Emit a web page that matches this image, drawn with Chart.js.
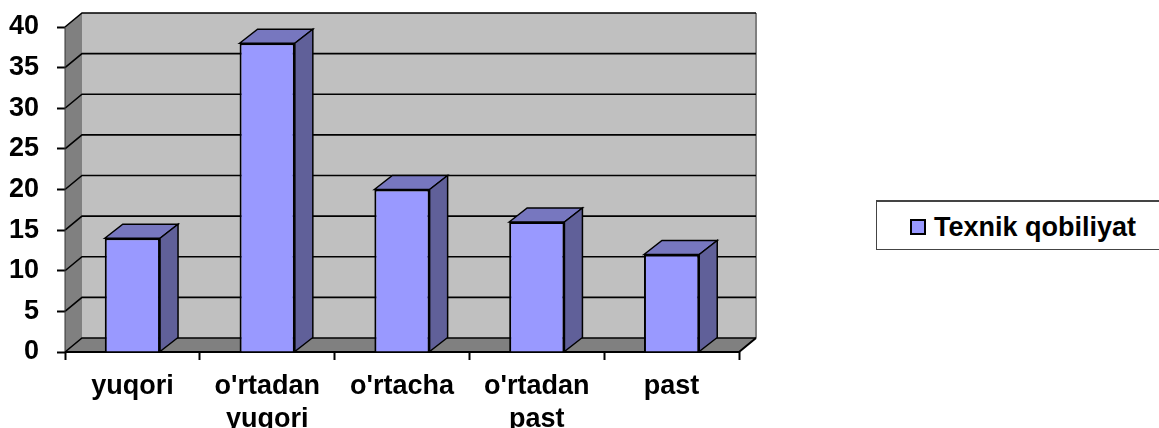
<!DOCTYPE html>
<html>
<head>
<meta charset="utf-8">
<script src="https://cdn.jsdelivr.net/npm/chart.js@4"></script>
<style>
    html, body { margin: 0; padding: 0; background: #fff; overflow: hidden; }
    #wrap { position: relative; width: 1159px; height: 428px; }
    #legend {
        position: absolute; left: 876px; top: 200px; width: 290px; height: 47px;
        border: 1px solid #444; border-top-width: 2px; background: #fff; box-sizing: content-box;
        font: bold 27px "Liberation Sans", Arial, sans-serif; color: #000;
    }
    #legend .box {
        position: absolute; left: 33px; top: 17px; width: 12px; height: 12px;
        border: 2px solid #000;
    }
    #legend .txt { position: absolute; left: 57px; top: 10px; line-height: 30px; white-space: nowrap; }
</style>
</head>
<body>
<div id="wrap">
    <canvas id="graf" width="1159" height="428"></canvas>
    <div id="legend"></div>
</div>
<script>
const categories = ['yuqori', ["o'rtadan", 'yuqori'], "o'rtacha", ["o'rtadan", 'past'], 'past'];
const seriesName = 'Texnik qobiliyat';
const values = [14, 38, 20, 16, 12];
const yMax = 40;
const yStep = 5;

const depthX = 17, depthY = 14;
const labelFont = { family: '"Liberation Sans", Arial, sans-serif', size: 27, weight: 'bold', lineHeight: 1.22 };

function poly(ctx, pts, fill, stroke, lw) {
    ctx.beginPath();
    pts.forEach((p, i) => i ? ctx.lineTo(p[0], p[1]) : ctx.moveTo(p[0], p[1]));
    ctx.closePath();
    if (fill) { ctx.fillStyle = fill; ctx.fill(); }
    if (stroke) { ctx.strokeStyle = stroke; ctx.lineWidth = lw; ctx.stroke(); }
}

// fake 3D box: walls, floor and grid behind the bars
const walls = {
    id: 'walls',
    beforeDatasetsDraw(chart) {
        const { ctx, chartArea: a, scales: { y } } = chart;
        ctx.save();
        poly(ctx, [[a.left + depthX, a.top - depthY], [a.right + depthX, a.top - depthY], [a.right + depthX, a.bottom - depthY], [a.left + depthX, a.bottom - depthY]], '#c0c0c0');
        poly(ctx, [[a.left, a.top], [a.left + depthX, a.top - depthY], [a.left + depthX, a.bottom - depthY], [a.left, a.bottom]], '#808080');
        poly(ctx, [[a.left, a.bottom], [a.left + depthX, a.bottom - depthY], [a.right + depthX, a.bottom - depthY], [a.right, a.bottom]], '#808080');

        // right edge of the back wall
        ctx.strokeStyle = '#808080';
        ctx.lineWidth = 2;
        ctx.beginPath();
        ctx.moveTo(a.right + depthX, a.top - depthY);
        ctx.lineTo(a.right + depthX, a.bottom - depthY);
        ctx.stroke();

        // grid lines run across the side wall and the back wall
        ctx.strokeStyle = '#000';
        ctx.lineWidth = 1.6;
        y.ticks.forEach(t => {
            const py = y.getPixelForValue(t.value);
            ctx.beginPath();
            ctx.moveTo(a.left, py);
            ctx.lineTo(a.left + depthX, py - depthY);
            ctx.lineTo(a.right + depthX, py - depthY);
            ctx.stroke();
        });
        // axes
        ctx.lineWidth = 1;
        ctx.strokeStyle = '#333';
        ctx.beginPath();
        ctx.moveTo(a.left, a.top);
        ctx.lineTo(a.left, a.bottom);
        ctx.stroke();
        ctx.lineWidth = 2;
        ctx.strokeStyle = '#000';
        ctx.beginPath();
        ctx.moveTo(a.left, a.bottom);
        ctx.lineTo(a.right, a.bottom);
        ctx.lineTo(a.right + depthX, a.bottom - depthY);
        ctx.stroke();

        // bar sides and tops, taken from the bar elements
        chart.getDatasetMeta(0).data.forEach(bar => {
            const l = bar.x - bar.width / 2, r = bar.x + bar.width / 2;
            const dx = depthX + 1;
            poly(ctx, [[l, bar.y], [l + dx, bar.y - depthY], [r + dx, bar.y - depthY], [r, bar.y]], '#7777bf', '#000', 1.5);
            poly(ctx, [[r, bar.y], [r + dx, bar.y - depthY], [r + dx, bar.base - depthY], [r, bar.base]], '#606099', '#000', 1.5);
        });
        ctx.restore();
    }
};

const chart = new Chart(document.getElementById('graf').getContext('2d'), {
    type: 'bar',
    data: {
        labels: categories,
        datasets: [{
            label: seriesName,
            data: values,
            backgroundColor: '#9999ff',
            borderColor: '#000',
            borderWidth: 2,
            barPercentage: 0.41,
            categoryPercentage: 1
        }]
    },
    options: {
        responsive: false,
        animation: false,
        layout: { padding: { top: 27, right: 420, left: 0, bottom: 0 } },
        plugins: { legend: { display: false }, title: { display: false }, tooltip: { enabled: false } },
        scales: {
            x: {
                border: { display: false },
                grid: { drawOnChartArea: false, color: '#000', tickLength: 8, tickWidth: 2 },
                ticks: { color: '#000', font: labelFont, padding: 10, maxRotation: 0, autoSkip: false },
                afterFit(scale) { scale.height = 76; }
            },
            y: {
                min: 0,
                max: yMax,
                border: { display: false },
                grid: { drawOnChartArea: false, color: '#000', tickLength: 8, tickWidth: 2 },
                ticks: { stepSize: yStep, color: '#000', font: labelFont, padding: 18 },
                afterFit(scale) {
                    scale.width = 65;
                    // the tick padding would otherwise push the 40 line down
                    scale.paddingTop = 0;
                    scale.paddingBottom = 0;
                }
            }
        }
    },
    plugins: [walls]
});

// legend built from the dataset
const ds = chart.data.datasets[0];
const legend = document.getElementById('legend');
const swatch = document.createElement('span');
swatch.className = 'box';
swatch.style.background = ds.backgroundColor;
const txt = document.createElement('span');
txt.className = 'txt';
txt.textContent = ds.label;
legend.append(swatch, txt);
</script>
</body>
</html>
